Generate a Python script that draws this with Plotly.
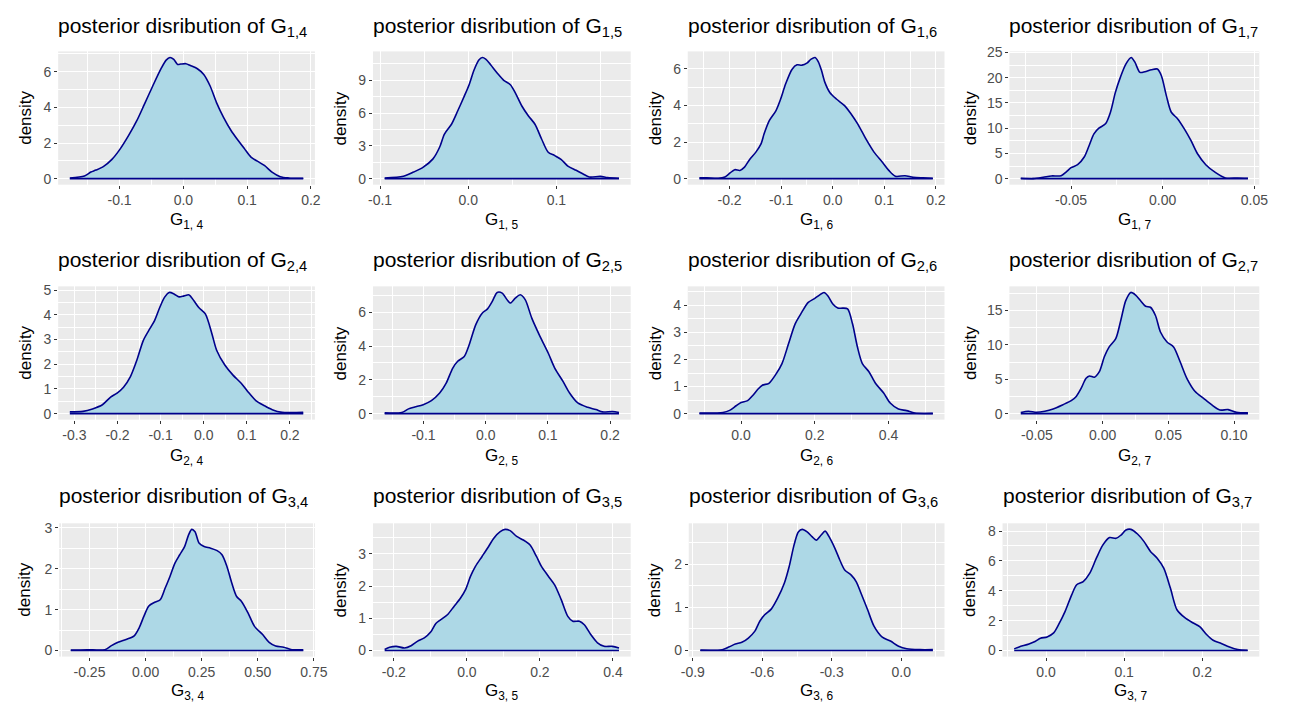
import plotly.graph_objects as go

# ---------------- DATA ----------------
g14_x = [-0.178, -0.155, -0.145, -0.137, -0.125, -0.112, -0.099, -0.086, -0.073, -0.061, -0.048, -0.035, -0.027, -0.021,
         -0.015, -0.009, -0.004, 0.004, 0.011, 0.022, 0.032, 0.042, 0.052, 0.063, 0.075, 0.086, 0.096, 0.106, 0.116,
         0.127, 0.139, 0.152, 0.165, 0.188]
g14_y = [0.04, 0.15, 0.37, 0.48, 0.69, 1.08, 1.67, 2.41, 3.25, 4.18, 5.2, 6.17, 6.65, 6.8,
         6.69, 6.41, 6.43, 6.45, 6.35, 6.17, 5.85, 5.2, 4.27, 3.44, 2.69, 2.14, 1.67, 1.21, 0.98,
         0.74, 0.37, 0.11, 0.04, 0.02]

g15_x = [-0.0948, -0.0735, -0.062, -0.051, -0.040, -0.0325, -0.027, -0.019, -0.012, -0.0045, 0.001, 0.0067, 0.0123,
         0.016, 0.0198, 0.0254, 0.0328, 0.0403, 0.0478, 0.0534, 0.0608, 0.0683, 0.0757, 0.0832, 0.0907, 0.0981,
         0.1056, 0.113, 0.1224, 0.1299, 0.1373, 0.150, 0.158, 0.171]
g15_y = [0.06, 0.21, 0.6, 1.06, 1.81, 2.87, 4.08, 4.98, 6.19, 7.55, 8.6, 9.97, 10.88,
         11.09, 10.94, 10.42, 9.67, 9.0, 8.6, 7.85, 6.65, 5.74, 4.98, 3.63, 2.42, 2.11,
         1.75, 1.15, 0.76, 0.45, 0.15, 0.21, 0.09, 0.03]

g16_x = [-0.2584, -0.244, -0.222, -0.209, -0.199, -0.190, -0.180, -0.171, -0.161, -0.149, -0.139, -0.133, -0.123,
         -0.110, -0.101, -0.0914, -0.0787, -0.0692, -0.0597, -0.0502, -0.0419, -0.0343, -0.0279, -0.0216, -0.0152,
         -0.0057, 0.007, 0.0229, 0.0356, 0.0483, 0.0641, 0.080, 0.0959, 0.1086, 0.1213, 0.140, 0.156, 0.175, 0.194]
g16_y = [0.05, 0.05, 0.02, 0.09, 0.31, 0.49, 0.45, 0.63, 1.05, 1.45, 1.9, 2.45, 3.17,
         3.72, 4.35, 5.17, 5.98, 6.22, 6.2, 6.31, 6.53, 6.62, 6.38, 5.89, 5.26,
         4.71, 4.35, 3.99, 3.53, 2.99, 2.18, 1.45, 0.91, 0.45, 0.13, 0.16, 0.07, 0.04, 0.02]

g17_x = [-0.0774, -0.0706, -0.0652, -0.0608, -0.0554, -0.0527, -0.050, -0.0464, -0.0428, -0.0401, -0.0375, -0.0348,
         -0.0312, -0.0285, -0.0258, -0.0231, -0.0201, -0.0172, -0.0151, -0.0124, -0.0097, -0.0061, -0.0029, -0.0007,
         0.002, 0.0047, 0.0082, 0.0118, 0.0154, 0.019, 0.0235, 0.0289, 0.0342, 0.041, 0.0465]
g17_y = [0.07, 0.0, 0.26, 0.53, 0.59, 1.3, 2.17, 2.76, 4.28, 6.58, 8.88, 10.0,
         10.86, 13.16, 17.1, 20.07, 22.7, 24.01, 23.03, 21.05, 21.18, 21.58, 21.71, 20.39,
         16.45, 13.16, 11.84, 9.87, 7.57, 4.93, 2.76, 1.18, 0.13, 0.13, 0.07]

g24_x = [-0.3106, -0.280, -0.258, -0.235, -0.216, -0.201, -0.186, -0.170, -0.155, -0.140, -0.125, -0.114, -0.102,
         -0.091, -0.080, -0.068, -0.057, -0.0455, -0.034, -0.0227, -0.0114, 0.0038, 0.019, 0.030, 0.049, 0.068,
         0.087, 0.102, 0.121, 0.140, 0.159, 0.182, 0.2045, 0.231]
g24_y = [0.07, 0.09, 0.19, 0.36, 0.67, 0.83, 1.07, 1.5, 2.17, 2.97, 3.44, 3.77, 4.3,
         4.71, 4.91, 4.84, 4.73, 4.77, 4.81, 4.57, 4.3, 4.04, 3.24, 2.57, 1.97, 1.56,
         1.23, 0.9, 0.53, 0.33, 0.16, 0.05, 0.04, 0.05]

g25_x = [-0.1624, -0.135, -0.124, -0.114, -0.1005, -0.0873, -0.074, -0.0635, -0.0529, -0.045, -0.0344, -0.0265,
         -0.0159, -0.0053, 0.0026, 0.0106, 0.0185, 0.0265, 0.0344, 0.0397, 0.0476, 0.0556, 0.0635, 0.0741, 0.0873,
         0.1005, 0.111, 0.1243, 0.1349, 0.1481, 0.164, 0.1772, 0.1878, 0.2037, 0.2143]
g25_y = [0.04, 0.06, 0.28, 0.39, 0.53, 0.77, 1.22, 1.81, 2.7, 3.1, 3.39, 4.08,
         5.27, 5.96, 6.19, 6.65, 7.18, 7.14, 6.75, 6.55, 6.84, 7.04, 6.75, 5.66, 4.58,
         3.59, 2.7, 1.91, 1.22, 0.63, 0.37, 0.24, 0.1, 0.12, 0.06]

g26_x = [-0.1129, -0.0489, -0.031, -0.0133, 0.0, 0.0178, 0.0311, 0.0444, 0.0578, 0.0756, 0.0933, 0.111, 0.1289,
         0.1467, 0.1644, 0.1822, 0.2, 0.2133, 0.2249, 0.2356, 0.2489, 0.2622, 0.2756, 0.2889, 0.3022, 0.3156,
         0.3289, 0.3467, 0.3644, 0.3867, 0.4044, 0.4267, 0.4489, 0.4711, 0.52]
g26_y = [0.02, 0.04, 0.12, 0.29, 0.41, 0.48, 0.66, 0.88, 1.05, 1.12, 1.43, 1.85, 2.59,
         3.32, 3.74, 4.11, 4.26, 4.39, 4.48, 4.35, 4.05, 3.9, 3.9, 3.87, 3.32, 2.46,
         1.85, 1.55, 1.12, 0.76, 0.39, 0.17, 0.11, 0.02, 0.01]

g27_x = [-0.0623, -0.0565, -0.0503, -0.044, -0.0377, -0.0302, -0.0239, -0.0201, -0.0163, -0.0126, -0.010, -0.0063,
         -0.0025, 0.0013, 0.005, 0.01, 0.0138, 0.0176, 0.0214, 0.0251, 0.0289, 0.0327, 0.0364, 0.0402, 0.044,
         0.049, 0.054, 0.059, 0.0641, 0.0704, 0.0766, 0.0829, 0.0892, 0.0955, 0.1018, 0.1106]
g27_y = [0.14, 0.34, 0.19, 0.34, 0.67, 1.3, 1.88, 2.5, 3.7, 5.14, 5.48, 5.29,
         6.1, 8.27, 9.71, 10.91, 13.56, 16.44, 17.64, 17.26, 16.44, 15.63, 15.48, 14.28, 11.88,
         10.43, 9.71, 7.55, 5.14, 3.22, 2.26, 1.3, 0.53, 0.58, 0.19, 0.1]

g34_x = [-0.3333, -0.261, -0.181, -0.152, -0.123, -0.087, -0.0507, -0.029, -0.0072, 0.0145, 0.0406, 0.0652, 0.087,
         0.1087, 0.1304, 0.1522, 0.1739, 0.1913, 0.2058, 0.2203, 0.2391, 0.2609, 0.2899, 0.3188, 0.3406, 0.3623,
         0.3841, 0.4058, 0.4275, 0.4565, 0.4855, 0.5217, 0.5507, 0.5797, 0.6159, 0.6522, 0.7029]
g34_y = [0.01, 0.02, 0.02, 0.12, 0.2, 0.27, 0.36, 0.55, 0.84, 1.09, 1.18, 1.24, 1.52,
         1.81, 2.13, 2.34, 2.54, 2.82, 2.96, 2.9, 2.62, 2.54, 2.5, 2.44, 2.34, 2.06,
         1.65, 1.32, 1.2, 0.92, 0.59, 0.39, 0.2, 0.11, 0.08, 0.02, 0.02]

g35_x = [-0.225, -0.2114, -0.1933, -0.1707, -0.1527, -0.1346, -0.1165, -0.0985, -0.0849, -0.0714, -0.0533, -0.0352,
         -0.0172, -0.0036, 0.0099, 0.0235, 0.0416, 0.0596, 0.0732, 0.0913, 0.1048, 0.1184, 0.1364, 0.1545, 0.1725,
         0.1906, 0.2042, 0.2222, 0.2403, 0.2584, 0.2764, 0.29, 0.3081, 0.3216, 0.3397, 0.3577, 0.3758, 0.3984, 0.4165]
g35_y = [0.03, 0.1, 0.13, 0.08, 0.15, 0.29, 0.39, 0.58, 0.84, 0.96, 1.11, 1.37,
         1.63, 1.89, 2.3, 2.61, 2.92, 3.23, 3.48, 3.69, 3.76, 3.72, 3.54, 3.43, 3.28,
         2.92, 2.61, 2.32, 2.04, 1.58, 1.06, 0.91, 0.91, 0.8, 0.49, 0.24, 0.13, 0.13, 0.08]

g36_x = [-0.8674, -0.773, -0.7447, -0.7165, -0.6883, -0.6601, -0.6319, -0.6107, -0.5896, -0.5614, -0.5331, -0.5049,
         -0.4838, -0.4626, -0.4443, -0.4274, -0.4062, -0.385, -0.3667, -0.3456, -0.3286, -0.3075, -0.2863, -0.2652,
         -0.2440, -0.2158, -0.1946, -0.1735, -0.1453, -0.117, -0.0818, -0.0465, -0.0113, 0.024, 0.0804, 0.1368]
g36_y = [0.01, 0.02, 0.08, 0.15, 0.19, 0.29, 0.45, 0.68, 0.83, 0.96, 1.22, 1.56,
         1.95, 2.45, 2.75, 2.81, 2.75, 2.64, 2.56, 2.68, 2.77, 2.6, 2.37, 2.1,
         1.87, 1.75, 1.6, 1.33, 0.95, 0.56, 0.31, 0.22, 0.1, 0.04, 0.02, 0.02]

g37_x = [-0.0408, -0.0345, -0.0219, -0.0135, -0.0072, 0.0013, 0.0097, 0.016, 0.0244, 0.0328, 0.0392, 0.0476, 0.056,
         0.0644, 0.0728, 0.0813, 0.0897, 0.096, 0.1023, 0.1086, 0.1171, 0.1255, 0.1339, 0.1423, 0.1507, 0.1592,
         0.1676, 0.1781, 0.1886, 0.1971, 0.2055, 0.2139, 0.2244, 0.2349, 0.2455, 0.2581]
g37_y = [0.11, 0.24, 0.44, 0.62, 0.82, 0.91, 1.18, 1.73, 2.62, 3.73, 4.4, 4.62, 5.18,
         6.18, 7.07, 7.56, 7.51, 7.73, 8.07, 8.11, 7.8, 7.29, 6.62, 6.18, 5.51, 4.18,
         2.73, 2.18, 1.84, 1.58, 1.07, 0.69, 0.47, 0.24, 0.07, 0.02]

# tick values / labels
g14_xt = [-0.1, 0.0, 0.1, 0.2];          g14_xl = ["-0.1", "0.0", "0.1", "0.2"];          g14_yt = [0, 2, 4, 6]
g15_xt = [-0.1, 0.0, 0.1];               g15_xl = ["-0.1", "0.0", "0.1"];                 g15_yt = [0, 3, 6, 9]
g16_xt = [-0.2, -0.1, 0.0, 0.1, 0.2];    g16_xl = ["-0.2", "-0.1", "0.0", "0.1", "0.2"];  g16_yt = [0, 2, 4, 6]
g17_xt = [-0.05, 0.0, 0.05];             g17_xl = ["-0.05", "0.00", "0.05"];              g17_yt = [0, 5, 10, 15, 20, 25]
g24_xt = [-0.3, -0.2, -0.1, 0.0, 0.1, 0.2]; g24_xl = ["-0.3", "-0.2", "-0.1", "0.0", "0.1", "0.2"]; g24_yt = [0, 1, 2, 3, 4, 5]
g25_xt = [-0.1, 0.0, 0.1, 0.2];          g25_xl = ["-0.1", "0.0", "0.1", "0.2"];          g25_yt = [0, 2, 4, 6]
g26_xt = [0.0, 0.2, 0.4];                g26_xl = ["0.0", "0.2", "0.4"];                  g26_yt = [0, 1, 2, 3, 4]
g27_xt = [-0.05, 0.0, 0.05, 0.10];       g27_xl = ["-0.05", "0.00", "0.05", "0.10"];      g27_yt = [0, 5, 10, 15]
g34_xt = [-0.25, 0.0, 0.25, 0.5, 0.75];  g34_xl = ["-0.25", "0.00", "0.25", "0.50", "0.75"]; g34_yt = [0, 1, 2, 3]
g35_xt = [-0.2, 0.0, 0.2, 0.4];          g35_xl = ["-0.2", "0.0", "0.2", "0.4"];          g35_yt = [0, 1, 2, 3]
g36_xt = [-0.9, -0.6, -0.3, 0.0];        g36_xl = ["-0.9", "-0.6", "-0.3", "0.0"];        g36_yt = [0, 1, 2]
g37_xt = [0.0, 0.1, 0.2];                g37_xl = ["0.0", "0.1", "0.2"];                  g37_yt = [0, 2, 4, 6, 8]

panels = [
    ("1", "4", g14_x, g14_y, g14_xt, g14_xl, g14_yt),
    ("1", "5", g15_x, g15_y, g15_xt, g15_xl, g15_yt),
    ("1", "6", g16_x, g16_y, g16_xt, g16_xl, g16_yt),
    ("1", "7", g17_x, g17_y, g17_xt, g17_xl, g17_yt),
    ("2", "4", g24_x, g24_y, g24_xt, g24_xl, g24_yt),
    ("2", "5", g25_x, g25_y, g25_xt, g25_xl, g25_yt),
    ("2", "6", g26_x, g26_y, g26_xt, g26_xl, g26_yt),
    ("2", "7", g27_x, g27_y, g27_xt, g27_xl, g27_yt),
    ("3", "4", g34_x, g34_y, g34_xt, g34_xl, g34_yt),
    ("3", "5", g35_x, g35_y, g35_xt, g35_xl, g35_yt),
    ("3", "6", g36_x, g36_y, g36_xt, g36_xl, g36_yt),
    ("3", "7", g37_x, g37_y, g37_xt, g37_xl, g37_yt),
]

# ---------------- LAYOUT (pixels) ----------------
W, H = 1290, 704
col_left = [[51, 371, 691, 1018], [51, 371, 691, 1018], [52, 371, 692, 1011]]
col_right = [312, 633, 952, 1272]
row_top = [45, 283, 523]
row_bottom = [180, 418, 658]
title_y = [20, 257, 496]
xtitle_y = [217, 456, 694]
ytitle_x = [17, 338, 658, 978]

FONT = "Liberation Sans, Arial, Helvetica, sans-serif"
FILL = "#ADD8E6"
LINE = "#00008B"


def fx(p):
    return p / W


def fy(p):
    return 1 - p / H


fig = go.Figure()
layout = dict(
    width=W, height=H, autosize=False, margin=dict(l=0, r=0, t=0, b=0),
    paper_bgcolor="white", plot_bgcolor="#EBEBEB",
    showlegend=False, font=dict(family=FONT), annotations=[],
)

for i, (a, b, xs, ys, xt, xl, yt) in enumerate(panels):
    r, c = divmod(i, 4)
    n = "" if i == 0 else str(i + 1)
    xa, ya = "x" + n, "y" + n
    fig.add_trace(go.Scatter(x=xs, y=ys, xaxis=xa, yaxis=ya, mode="lines",
                             fill="tozeroy", fillcolor=FILL,
                             line=dict(color=LINE, width=1.6, shape="spline", smoothing=0.8),
                             hoverinfo="skip"))
    fig.add_trace(go.Scatter(x=[xs[0], xs[-1]], y=[0, 0], xaxis=xa, yaxis=ya, mode="lines",
                             line=dict(color=LINE, width=1.6), hoverinfo="skip"))
    xmin, xmax = min(xs), max(xs)
    span = xmax - xmin
    ymax = max(ys)
    l, rt = col_left[r][c], col_right[c]
    top, bot = row_top[r], row_bottom[r]
    common = dict(showgrid=True, gridcolor="white", gridwidth=1.4, zeroline=False, showline=False,
                  ticks="outside", ticklen=3, tickwidth=1, tickcolor="#333333",
                  tickfont=dict(size=14, color="#4D4D4D", family=FONT))
    layout["xaxis" + n] = dict(
        domain=[fx(l), fx(rt)], anchor=ya, range=[xmin - 0.05 * span, xmax + 0.05 * span],
        tickmode="array", tickvals=xt, ticktext=xl,
        minor=dict(showgrid=True, gridcolor="white", gridwidth=0.7,
                   tick0=xt[0], dtick=(xt[1] - xt[0]) / 2),
        **common)
    layout["yaxis" + n] = dict(
        domain=[fy(bot), fy(top)], anchor=xa, range=[-0.05 * ymax, 1.05 * ymax],
        tickmode="array", tickvals=yt, ticktext=[str(v) for v in yt],
        minor=dict(showgrid=True, gridcolor="white", gridwidth=0.7,
                   tick0=yt[0], dtick=(yt[1] - yt[0]) / 2),
        **common)
    # titles
    layout["annotations"].append(dict(
        text=f"posterior disribution of G<sub>{a},{b}</sub>", xref="paper", yref="paper",
        x=fx(l - 2), y=fy(title_y[r]), xanchor="left", yanchor="middle", showarrow=False,
        font=dict(size=21, color="black", family=FONT)))
    layout["annotations"].append(dict(
        text=f"G<sub>{a}, {b}</sub>", xref="paper", yref="paper",
        x=fx((l + rt) / 2), y=fy(xtitle_y[r]), xanchor="center", yanchor="middle", showarrow=False,
        font=dict(size=17, color="black", family=FONT)))
    layout["annotations"].append(dict(
        text="density", xref="paper", yref="paper", textangle=-90,
        x=fx(ytitle_x[c]), y=fy((top + bot) / 2), xanchor="center", yanchor="middle", showarrow=False,
        font=dict(size=17, color="black", family=FONT)))

fig.update_layout(**layout)
fig.write_html("out.html", config={"responsive": False})
